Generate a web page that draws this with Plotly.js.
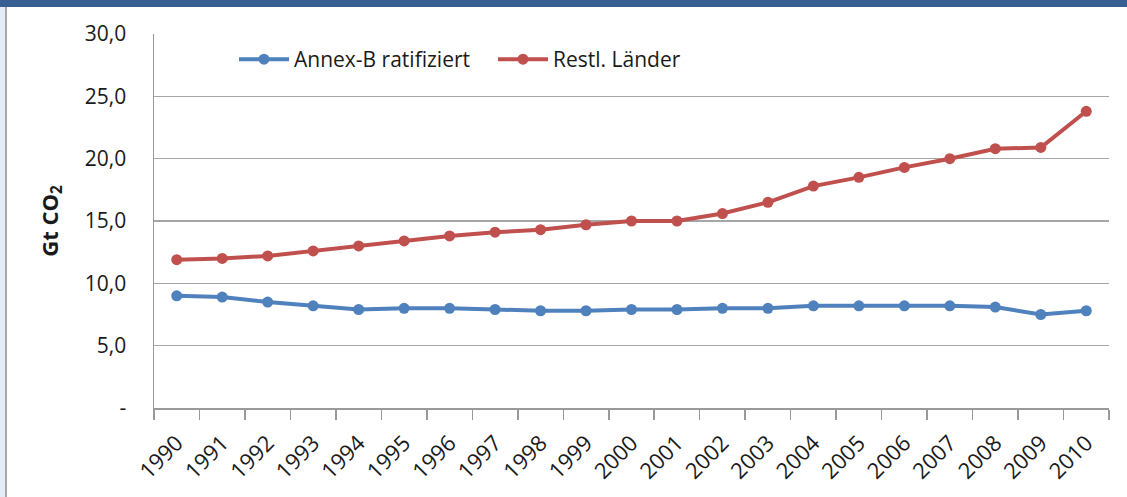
<!DOCTYPE html>
<html>
<head>
<meta charset="utf-8">
<script src="https://cdn.plot.ly/plotly-3.0.1.min.js"></script>
<style>html,body{margin:0;padding:0;background:#fff;}#chart{width:1127px;height:497px;}</style>
</head>
<body>
<div id="chart"></div>
<script>
var years = ["1990","1991","1992","1993","1994","1995","1996","1997","1998","1999","2000","2001","2002","2003","2004","2005","2006","2007","2008","2009","2010"];
var annexB = [9.0,8.9,8.5,8.2,7.9,8.0,8.0,7.9,7.8,7.8,7.9,7.9,8.0,8.0,8.2,8.2,8.2,8.2,8.1,7.5,7.8];
var restl = [11.9,12.0,12.2,12.6,13.0,13.4,13.8,14.1,14.3,14.7,15.0,15.0,15.6,16.5,17.8,18.5,19.3,20.0,20.8,20.9,23.8];
var yTickVals = [0,5,10,15,20,25,30];
var yTickText = ["-","5,0","10,0","15,0","20,0","25,0","30,0"];
var seriesNames = ["Annex-B ratifiziert","Restl. Länder"];

var W = 1127, H = 497, ML = 154, MR = 18, MT = 34, MB = 89;
var PW = W - ML - MR, PH = H - MT - MB;
function px2x(p){ return (p - ML) / PW; }
function py2y(p){ return (H - MB - p) / PH; }

var font = "Open Sans, sans-serif";
var txt = "#1a1a1a";
var traces = [
  {x: years, y: annexB, name: seriesNames[0], type: "scatter", mode: "lines+markers",
   line: {color: "#4F81BD", width: 4}, marker: {color: "#4F81BD", size: 11}},
  {x: years, y: restl, name: seriesNames[1], type: "scatter", mode: "lines+markers",
   line: {color: "#C0504D", width: 4}, marker: {color: "#C0504D", size: 11}}
];
var layout = {
  width: W, height: H,
  margin: {l: ML, r: MR, t: MT, b: MB, pad: 0},
  paper_bgcolor: "#fff", plot_bgcolor: "#fff",
  font: {family: font, size: 21, color: txt},
  showlegend: true,
  legend: {orientation: "h", x: px2x(234), y: py2y(39), xanchor: "left", yanchor: "top",
           bgcolor: "rgba(0,0,0,0)", font: {family: font, size: 21, color: txt},
           itemwidth: 50, entrywidth: 194, entrywidthmode: "pixels", tracegroupgap: 0},
  xaxis: {type: "category", range: [-0.5, 20.5], tickson: "boundaries", ticks: "outside",
          ticklen: 10, tickcolor: "#999", tickwidth: 1.5, showgrid: false,
          showline: true, linecolor: "#999", linewidth: 1.5, tickangle: -45,
          ticklabelstandoff: 12,
          tickfont: {family: font, size: 22, color: txt}, fixedrange: true},
  yaxis: {range: [0, 30], tickvals: yTickVals, ticktext: yTickText, showgrid: true,
          gridcolor: "#A6A6A6", gridwidth: 1.5, showline: true, linecolor: "#999", linewidth: 1.5,
          zeroline: false, ticks: "", ticklabelstandoff: 22,
          tickfont: {family: font, size: 21, color: txt},
          title: {text: "<b>Gt CO<sub>2</sub></b>", font: {family: font, size: 22, color: txt}, standoff: 20},
          fixedrange: true},
  shapes: [
    {type: "rect", xref: "paper", yref: "paper", x0: px2x(0), x1: px2x(W), y0: py2y(7), y1: py2y(0),
     fillcolor: "#375F91", line: {width: 0}, layer: "above"},
    {type: "rect", xref: "paper", yref: "paper", x0: px2x(0), x1: px2x(5), y0: py2y(H), y1: py2y(7),
     fillcolor: "#E6ECF7", line: {width: 0}},
    {type: "line", xref: "paper", yref: "paper", x0: px2x(6), x1: px2x(6), y0: py2y(H), y1: py2y(7),
     line: {color: "#A8A8A8", width: 2}}
  ]
};
Plotly.newPlot("chart", traces, layout, {displayModeBar: false, staticPlot: true});
</script>
</body>
</html>
